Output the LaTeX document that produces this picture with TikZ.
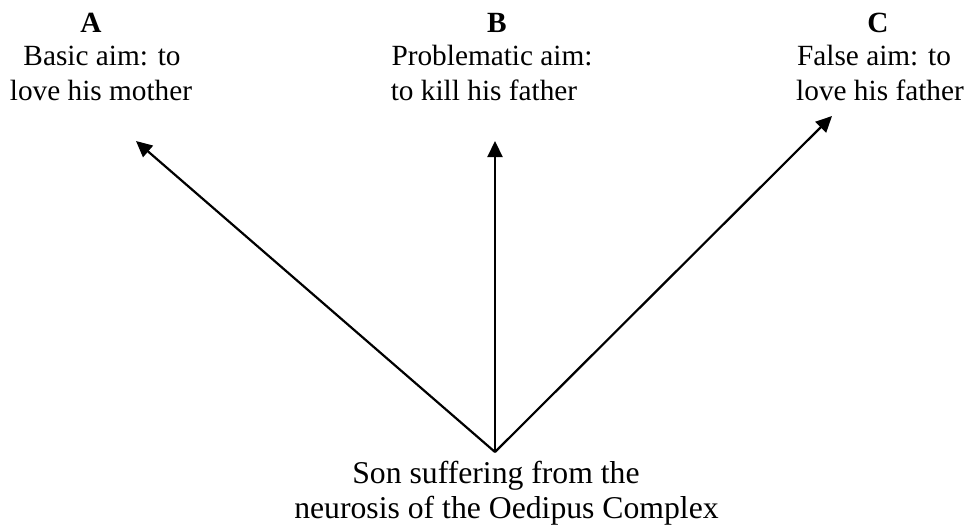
\documentclass[tikz,border=0pt]{standalone}
\usepackage{fontspec}
\setmainfont{Liberation Serif}
\usetikzlibrary{arrows.meta}
\begin{document}
\begin{tikzpicture}[x=1pt,y=-1pt,
  lbl/.style={inner sep=0pt,anchor=base,font=\fontsize{29.3}{35}\selectfont},
  head/.style={inner sep=0pt,anchor=base,font=\fontsize{29.3}{35}\selectfont\bfseries},
  srctext/.style={inner sep=0pt,anchor=base,font=\fontsize{31.7}{35}\selectfont},
  arr/.style={line width=2.2pt,-{Triangle[length=16pt,width=15pt]}}]
\useasboundingbox (0,0) rectangle (969,531);

% the three aims
\node[head] (hA) at (91,32) {A};
\node[lbl] (a1) at (102,65) {Basic aim: to};
\node[lbl] (a2) at (101,100) {love his mother};

\node[head] (hB) at (497,32) {B};
\node[lbl] (b1) at (492,65) {Problematic aim:};
\node[lbl] (b2) at (484,100) {to kill his father};

\node[head] (hC) at (878,32) {C};
\node[lbl] (c1) at (874,65) {False aim: to};
\node[lbl] (c2) at (880,100) {love his father};

% the son, source of all three arrows
\node[srctext] (s1) at (496,483) {Son suffering from the};
\node[srctext] (s2) at (506.5,518) {neurosis of the Oedipus Complex};

\coordinate (apex) at (495,452);
\coordinate (tipA) at (136,141);
\coordinate (tipB) at (495,141);
\coordinate (tipC) at (832,116);

\draw[arr] (apex) -- (tipA);
\draw[arr] (apex) -- (tipB);
\draw[arr] (apex) -- (tipC);
\end{tikzpicture}
\end{document}
